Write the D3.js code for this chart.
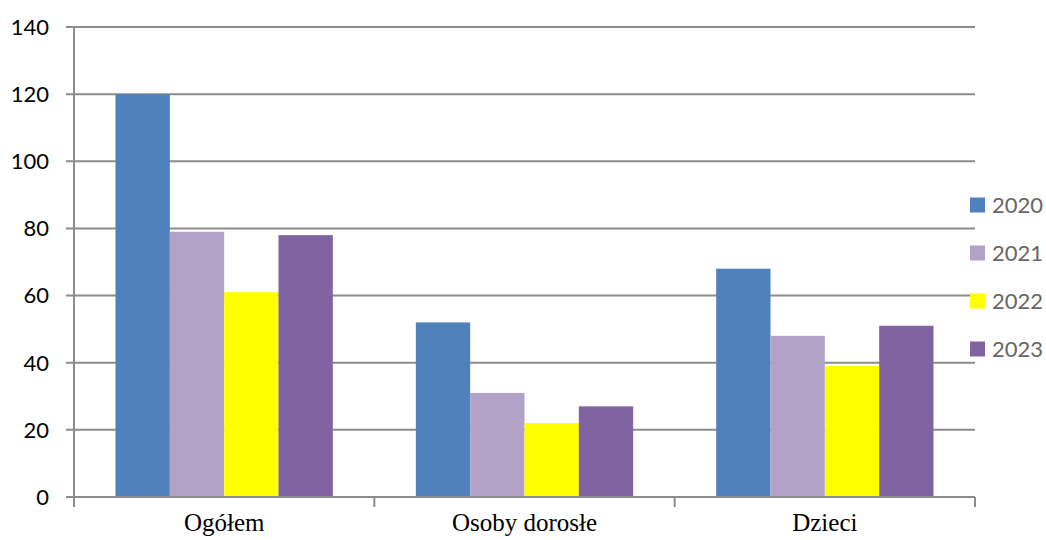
<!DOCTYPE html>
<html><head><meta charset="utf-8">
<script src="https://cdn.jsdelivr.net/npm/d3@7"></script>
<style>body{margin:0;background:#fff}svg{display:block}</style>
</head><body>
<script>
const categories = ["Ogółem", "Osoby dorosłe", "Dzieci"];
const seriesNames = ["2020", "2021", "2022", "2023"];
const values2020 = [120, 52, 68];
const values2021 = [79, 31, 48];
const values2022 = [61, 22, 39];
const values2023 = [78, 27, 51];
const yTicks = [0, 20, 40, 60, 80, 100, 120, 140];
const colors = ["#4f81bd", "#b2a2c7", "#ffff00", "#8064a2"];

const seriesValues = [values2020, values2021, values2022, values2023];
const W = 1046, H = 540;
const svg = d3.select("body").append("svg").attr("width", W).attr("height", H);

const x0 = d3.scaleBand().domain(categories).range([74, 975]).paddingInner(0).paddingOuter(0);
const x1 = d3.scaleBand().domain(seriesNames).range([41.5, x0.bandwidth() - 41.5]);
const y = d3.scaleLinear().domain([0, 140]).range([497, 27]);

// gridlines
svg.append("g").selectAll("line").data(yTicks).join("line")
  .attr("x1", 66).attr("x2", 975)
  .attr("y1", d => y(d)).attr("y2", d => y(d))
  .attr("stroke", "#8c8c8c").attr("stroke-width", 2);

// y axis line
svg.append("line").attr("x1", 74).attr("x2", 74).attr("y1", y(140)).attr("y2", 507)
  .attr("stroke", "#8c8c8c").attr("stroke-width", 2);

// y tick labels
svg.append("g").selectAll("text").data(yTicks).join("text")
  .attr("x", 49).attr("y", d => y(d)).attr("dy", "0.36em")
  .attr("text-anchor", "end")
  .attr("font-family", "Lato, 'Open Sans', sans-serif").attr("font-size", 22)
  .attr("fill", "#000").text(d => d);

// bars
const rows = categories.map((c, i) => ({c, vals: seriesNames.map((s, j) => ({s, v: seriesValues[j][i], j}))}));
const g = svg.append("g").selectAll("g").data(rows).join("g")
  .attr("transform", d => `translate(${x0(d.c)},0)`);
g.selectAll("rect").data(d => d.vals).join("rect")
  .attr("x", d => x1(d.s)).attr("width", x1.bandwidth())
  .attr("y", d => y(d.v)).attr("height", d => y(0) - y(d.v))
  .attr("fill", d => colors[d.j]);

// x axis line + ticks
svg.append("line").attr("x1", 74).attr("x2", 975).attr("y1", y(0)).attr("y2", y(0))
  .attr("stroke", "#8c8c8c").attr("stroke-width", 2);
const xt = categories.map(c => x0(c)).concat([x0.range()[1]]);
svg.append("g").selectAll("line").data(xt).join("line")
  .attr("x1", d => d).attr("x2", d => d).attr("y1", y(0)).attr("y2", 507)
  .attr("stroke", "#8c8c8c").attr("stroke-width", 2);

// category labels
svg.append("g").selectAll("text").data(categories).join("text")
  .attr("x", d => x0(d) + x0.bandwidth() / 2).attr("y", 531)
  .attr("text-anchor", "middle")
  .attr("font-family", "'Liberation Serif', 'Times New Roman', serif").attr("font-size", 25)
  .attr("fill", "#000").text(d => d);

// legend
const leg = svg.append("g").selectAll("g").data(seriesNames).join("g")
  .attr("transform", (d, i) => `translate(970,${205 + i * 48})`);
leg.append("rect").attr("x", 0).attr("y", -7.5).attr("width", 15).attr("height", 15)
  .attr("fill", (d, i) => colors[i]);
leg.append("text").attr("x", 22).attr("y", 0).attr("dy", "0.36em")
  .attr("font-family", "Lato, 'Open Sans', sans-serif").attr("font-size", 22)
  .attr("fill", "#666666").text(d => d);
</script>
</body></html>
